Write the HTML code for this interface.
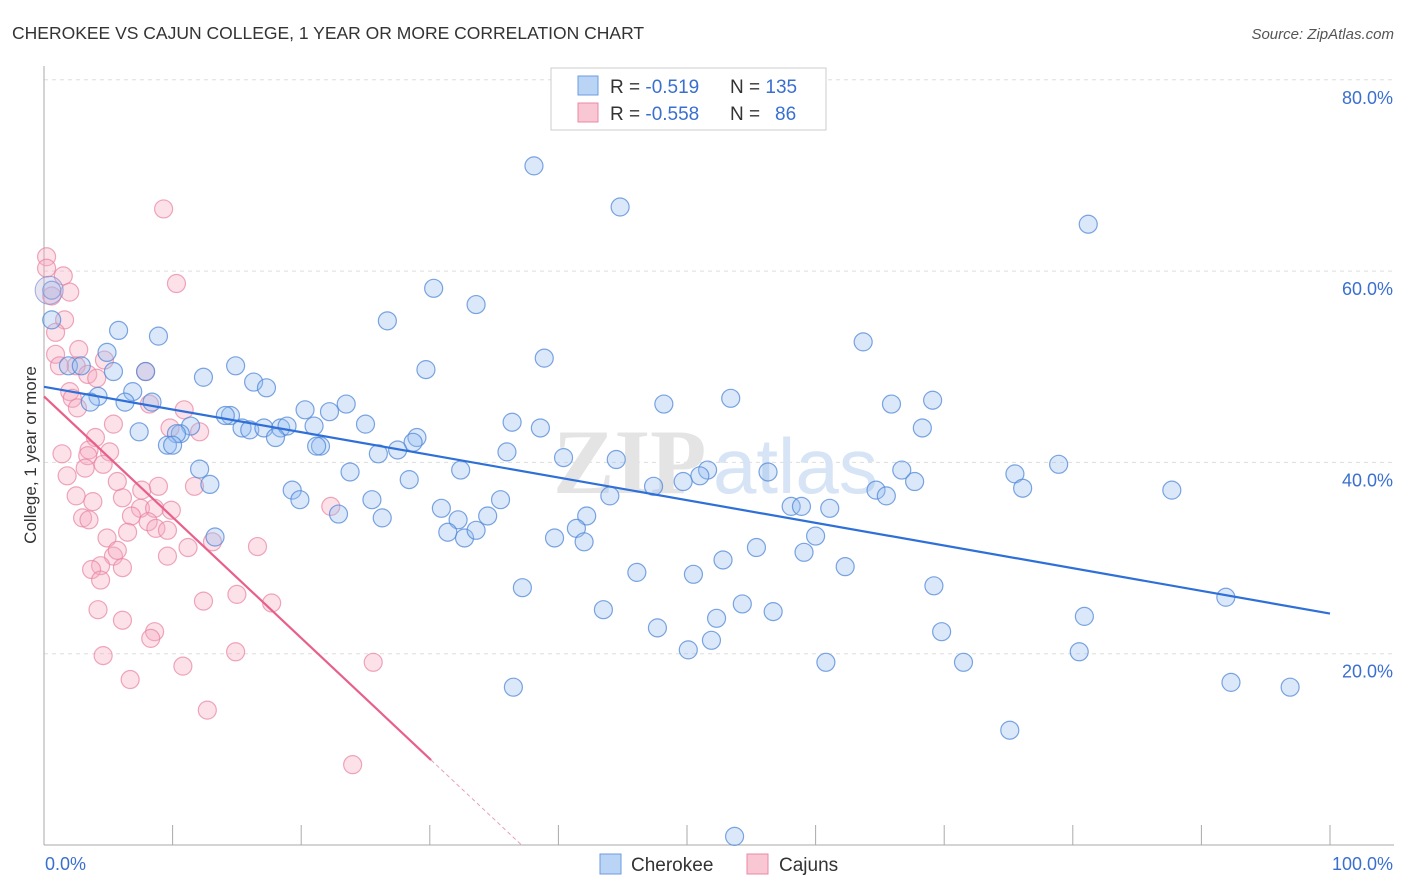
<!DOCTYPE html>
<html><head><meta charset="utf-8"><style>
body{margin:0;background:#fff;font-family:"Liberation Sans",sans-serif;}
#wrap{position:relative;width:1406px;height:892px;overflow:hidden;}
</style></head><body>
<div id="wrap">
<svg id="svg" width="1406" height="892" xmlns="http://www.w3.org/2000/svg">
<text x="12" y="39" font-size="17.5" fill="#333">CHEROKEE VS CAJUN COLLEGE, 1 YEAR OR MORE CORRELATION CHART</text>
<text x="1394" y="39" font-size="15" fill="#555" font-style="italic" text-anchor="end">Source: ZipAtlas.com</text>
<g id="grid"></g>
<g><text x="553" y="493" font-size="92" fill="#e4e4e4" font-weight="bold" font-family="Liberation Serif,serif">ZIP</text><text x="713" y="493" font-size="78" fill="#d6e4f5">atlas</text></g>
<g id="axes"></g>
<g id="pts"></g>
<g id="trend"></g>
<text x="36" y="455" font-size="17" fill="#333" text-anchor="middle" transform="rotate(-90 36 455)">College, 1 year or more</text>
<g>
<rect x="551" y="68" width="275" height="62" fill="#fff" stroke="#ccc"/>
<rect x="578" y="76" width="20" height="19" fill="#b9d4f5" stroke="#6d9be0"/>
<rect x="578" y="103" width="20" height="19" fill="#f9c6d4" stroke="#e98aa6"/>
<text x="610" y="93" font-size="19" fill="#333">R = <tspan fill="#3a6fd0">-0.519</tspan><tspan x="730">N = </tspan><tspan fill="#3a6fd0">135</tspan></text>
<text x="610" y="120" font-size="19" fill="#333">R = <tspan fill="#3a6fd0">-0.558</tspan><tspan x="730">N = </tspan><tspan x="775" fill="#3a6fd0">86</tspan></text>
</g>
<g>
<rect x="600" y="854" width="21" height="20" fill="#b9d4f5" stroke="#6d9be0"/>
<text x="631" y="871" font-size="19" fill="#333">Cherokee</text>
<rect x="747" y="854" width="21" height="20" fill="#f9c6d4" stroke="#e98aa6"/>
<text x="779" y="871" font-size="19" fill="#333">Cajuns</text>
</g>
</svg>
</div>
<script>
const blueX=[38.1,44.8,81.2,30.3,33.6,26.7,5.8,8.9,38.9,63.7,4.9,14.9,29.7,1.9,2.9,5.4,12.4,16.3,17.3,7.9,6.9,4.2,3.6,6.3,8.4,0.6,0.6,23.5,20.3,22.2,14.5,14.1,25.0,15.4,16.0,17.1,18.4,18.9,21.0,18.0,11.4,10.6,10.3,9.6,10.0,7.4,21.5,21.2,36.4,38.6,48.2,53.4,65.9,69.1,68.3,29.0,28.7,26.0,27.5,36.0,40.4,44.5,23.8,32.4,28.4,56.3,51.6,51.0,49.7,47.4,78.9,75.5,76.1,66.7,67.7,64.7,65.5,87.7,19.3,19.9,12.9,12.1,25.5,30.9,32.2,34.5,35.5,22.9,26.3,31.4,32.7,33.6,42.2,41.4,42.0,39.7,44.0,58.1,58.9,61.1,60.0,55.4,59.1,52.8,62.3,46.1,50.5,37.2,43.5,54.3,56.7,69.2,80.9,91.9,47.7,52.3,51.9,50.1,69.8,60.8,71.5,80.5,92.3,96.9,36.5,75.1,53.7,13.3];
const blueY=[71.0,66.7,64.9,58.2,56.5,54.8,53.8,53.2,50.9,52.6,51.5,50.1,49.7,50.1,50.1,49.5,48.9,48.4,47.8,49.5,47.4,46.9,46.3,46.3,46.3,54.9,58.0,46.1,45.5,45.3,44.9,44.9,44.0,43.6,43.4,43.6,43.6,43.8,43.8,42.6,43.8,43.0,43.0,41.8,41.8,43.2,41.7,41.7,44.2,43.6,46.1,46.7,46.1,46.5,43.6,42.6,42.1,40.9,41.3,41.1,40.5,40.3,39.0,39.2,38.2,39.0,39.2,38.6,38.0,37.5,39.8,38.8,37.3,39.2,38.0,37.1,36.5,37.1,37.1,36.1,37.7,39.3,36.1,35.2,34.0,34.4,36.1,34.6,34.2,32.7,32.1,32.9,34.4,33.1,31.7,32.1,36.5,35.4,35.4,35.2,32.3,31.1,30.6,29.8,29.1,28.5,28.3,26.9,24.6,25.2,24.4,27.1,23.9,25.9,22.7,23.7,21.4,20.4,22.3,19.1,19.1,20.2,17.0,16.5,16.5,12.0,0.9,32.2];
const pinkX=[9.3,10.3,0.2,0.2,1.5,2.0,0.6,1.6,0.9,2.7,0.9,4.7,2.5,1.2,3.4,7.9,4.1,2.0,2.2,2.6,5.4,8.2,10.9,12.1,9.8,4.0,3.5,3.4,5.1,1.4,4.6,3.2,1.8,5.7,7.6,11.7,8.9,6.1,2.5,3.8,7.5,8.6,9.9,22.3,3.0,3.5,6.8,8.1,8.7,6.5,9.6,4.9,13.1,11.2,16.6,9.6,5.4,4.4,5.7,3.7,6.1,4.4,15.0,12.4,17.7,4.2,6.1,8.6,8.3,14.9,4.6,10.8,6.7,25.6,12.7,24.0];
const pinkY=[66.5,58.7,61.5,60.3,59.5,57.8,57.4,54.9,53.6,51.8,51.3,50.7,50.1,50.1,49.2,49.5,48.8,47.4,46.7,45.7,44.0,46.1,45.5,43.2,43.6,42.6,41.3,40.7,41.1,40.9,39.8,39.4,38.6,38.0,37.1,37.5,37.5,36.3,36.5,35.9,35.2,35.2,35.0,35.4,34.2,34.0,34.4,33.8,33.1,32.7,32.9,32.1,31.7,31.1,31.2,30.2,30.2,29.2,30.8,28.8,29.0,27.7,26.2,25.5,25.3,24.6,23.5,22.3,21.6,20.2,19.8,18.7,17.3,19.1,14.1,8.4];
const yTicks=[20,40,60,80];
const yTickLabels=["20.0%","40.0%","60.0%","80.0%"];
const xTickLabels=["0.0%","100.0%"];
const blueTrend=[47.9,24.2]; // y at x=0, x=100
const pinkTrend=[46.9,-1.263,30.1,37.1]; // intercept, slope, solid end x, dashed end x
const X0=44,X1=1330,Y0=845,YPER=9.565;
const sx=v=>X0+(X1-X0)*v/100, sy=v=>Y0-v*YPER;
const NS="http://www.w3.org/2000/svg";
function mk(tag,attrs,parent){const e=document.createElementNS(NS,tag);for(const k in attrs)e.setAttribute(k,attrs[k]);parent.appendChild(e);return e;}
const grid=document.getElementById('grid'),axes=document.getElementById('axes'),pts=document.getElementById('pts'),trend=document.getElementById('trend');
yTicks.forEach((t,i)=>{
 const l=mk('line',{x1:X0,x2:1394,y1:sy(t),y2:sy(t),stroke:'#ddd','stroke-dasharray':'4 4'},grid);
 
 
 const tx=mk('text',{x:1393,y:sy(t)+24,'font-size':18,fill:'#3a6fd0','text-anchor':'end'},axes);
 tx.textContent=yTickLabels[i];
 
 
});
mk('line',{x1:X0,x2:X0,y1:66,y2:Y0,stroke:'#aaa'},axes);
mk('line',{x1:X0,x2:1394,y1:Y0,y2:Y0,stroke:'#aaa'},axes);
for(let i=1;i<=10;i++){const t=mk('line',{x1:sx(i*10),x2:sx(i*10),y1:Y0-20,y2:Y0,stroke:'#aaa'},axes);}
const xl0=mk('text',{x:45,y:870,'font-size':18,fill:'#3a6fd0'},axes);xl0.textContent=xTickLabels[0];


const xl1=mk('text',{x:1393,y:870,'font-size':18,fill:'#3a6fd0','text-anchor':'end'},axes);xl1.textContent=xTickLabels[1];


pinkX.forEach((x,i)=>{const c=mk('circle',{cx:sx(x),cy:sy(pinkY[i]),r:9,fill:'rgba(246,170,192,0.35)',stroke:'rgba(232,130,160,0.7)','stroke-width':1.2},pts);
 
 });
blueX.forEach((x,i)=>{const c=mk('circle',{cx:sx(x),cy:sy(blueY[i]),r:9,fill:'rgba(150,190,240,0.35)',stroke:'rgba(80,135,215,0.75)','stroke-width':1.2},pts);
 
 });
const big=mk('circle',{cx:sx(0.4),cy:sy(58),r:14,fill:'rgba(190,180,220,0.35)',stroke:'rgba(120,140,210,0.7)'},pts);


const bl=mk('line',{x1:sx(0),y1:sy(blueTrend[0]),x2:sx(100),y2:sy(blueTrend[1]),stroke:'#2e6fd8','stroke-width':2.2},trend);


const pf=x=>pinkTrend[0]+pinkTrend[1]*x;
const pl=mk('line',{x1:sx(0),y1:sy(pf(0)),x2:sx(pinkTrend[2]),y2:sy(pf(pinkTrend[2])),stroke:'#e8608a','stroke-width':2.2},trend);


const pd=mk('line',{x1:sx(pinkTrend[2]),y1:sy(pf(pinkTrend[2])),x2:sx(pinkTrend[3]),y2:sy(Math.max(0,pf(pinkTrend[3]))),stroke:'#e8a0b6','stroke-width':1,'stroke-dasharray':'4 3'},trend);


</script>
</body></html>
